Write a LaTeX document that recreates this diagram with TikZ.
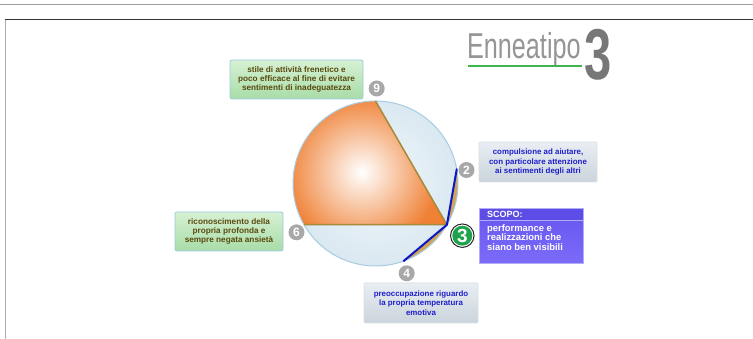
\documentclass[tikz,border=0pt]{standalone}
\usepackage{fontspec}
\setmainfont{Liberation Sans}
\usetikzlibrary{calc}
\definecolor{gtop}{HTML}{D6F1D3}
\definecolor{gbot}{HTML}{A8DCA8}
\definecolor{gborder}{HTML}{9CC8E4}
\definecolor{olivetxt}{HTML}{5A4A0E}
\definecolor{btop}{HTML}{E8EEF3}
\definecolor{bbot}{HTML}{CBD4DC}
\definecolor{bborder}{HTML}{D8DEE4}
\definecolor{bluetxt}{HTML}{1E1ECC}
\definecolor{scopohead}{HTML}{5B4DE6}
\definecolor{scopotop}{HTML}{6A5AF0}
\definecolor{scopobot}{HTML}{7C6CFA}
\definecolor{scopoborder}{HTML}{B4ACF6}
\definecolor{circin}{HTML}{F2F7FA}
\definecolor{circout}{HTML}{DAE8F1}
\definecolor{circborder}{HTML}{A6CCE2}
\definecolor{orangeA}{HTML}{EF8034}
\definecolor{chordc}{HTML}{A48A3A}
\definecolor{tanc}{HTML}{D2A556}
\definecolor{blueline}{HTML}{0B16C4}
\definecolor{badgegray}{HTML}{A8A8A8}
\definecolor{greenbadge}{HTML}{1FA24C}
\definecolor{titlegray}{HTML}{959595}
\definecolor{bigthree}{HTML}{777777}
\definecolor{underl}{HTML}{3DB54A}
\begin{document}
\begin{tikzpicture}[x=1pt,y=-1pt,
  greenbox/.style={rectangle, rounded corners=2pt, draw=gborder, line width=0.8pt,
    top color=gtop, bottom color=gbot, text=olivetxt, align=center,
    font=\bfseries\fontsize{8.2}{9.3}\selectfont, inner sep=0pt},
  graybox/.style={rectangle, rounded corners=1pt, draw=bborder, line width=0.6pt,
    top color=btop, bottom color=bbot, text=bluetxt, align=center,
    font=\bfseries\fontsize{7.9}{9.3}\selectfont, inner sep=0pt},
  badge/.style={circle, fill=badgegray, text=white, inner sep=0pt,
    minimum size=16pt, font=\bfseries\fontsize{12}{12}\selectfont},
  chordline/.style={draw=chordc, line width=1.5pt, line join=round},
  bluepath/.style={draw=blueline, line width=2pt, line join=round, line cap=round}]
\useasboundingbox (0,0) rectangle (753,339);
% frame lines
\draw[gray!75, line width=1.5pt] (0,4.5) -- (753,4.5);
\draw[black!80, line width=1pt] (4.5,20) -- (753,20);
\draw[gray!65, line width=1.6pt] (5.5,20) -- (5.5,339);
% title
\node[anchor=base west, text=titlegray, font=\fontsize{36}{36}\selectfont, xscale=0.7, inner sep=0pt] (title) at (467,59) {Enneatipo};
\draw[underl, line width=2.2pt] (467.5,66) -- (582,66);
\node[anchor=base west, text=bigthree, font=\bfseries\fontsize{72}{72}\selectfont, xscale=0.68, inner sep=0pt] (bigthree) at (584,80) {3};
% circle points
\coordinate (C) at (375.5,183.5);
\coordinate (p9) at (375.5,101);
\coordinate (p3) at (446.95,224.75);
\coordinate (p6) at (304.05,224.75);
\coordinate (p2) at (456.75,169.17);
\coordinate (p4) at (403.7,261.0);
% circle fill
\shade[inner color=circin, outer color=circout] (C) circle[radius=82.5pt];
% orange region
\begin{scope}
  \clip (C) circle[radius=82.5pt];
  \clip (p3) -- ($(p3)!1.1!(p9)$) -- (270,80) -- (270,224.75) -- cycle;
  \fill[orangeA] (270,80) rectangle (460,230);
  \shade[inner color=white, outer color=orangeA] (362,172) circle[radius=78pt];
\end{scope}
% tan segments
\begin{scope}
  \clip (C) circle[radius=82.5pt];
  \fill[tanc] (p3) -- ($(p3)!2!(p2)$) -- (520,90) -- (520,300) -- ($(p3)!2!(p4)$) -- cycle;
\end{scope}
\draw[circborder, line width=1pt] (C) circle[radius=82.5pt];
\draw[chordline] (p9) -- (p3) -- (p6);
\draw[bluepath] (p2) -- (p3) -- (p4);
% badges
\node[badge] (b9) at (376.7,88.5) {9};
\node[badge] (b2) at (466.5,170) {2};
\node[badge] (b6) at (296.5,232.3) {6};
\node[badge] (b4) at (406.7,273.3) {4};
\node[circle, draw=black!85, line width=1pt, fill=white, minimum size=23.5pt, inner sep=0pt] (b3o) at (462.3,235.7) {};
\node[circle, fill=greenbadge, minimum size=20pt, inner sep=0pt, text=white, font=\bfseries\fontsize{19}{19}\selectfont] (b3) at (b3o.center) {3};
% boxes
\node[greenbox, minimum width=133pt, minimum height=39pt] (t9) at (296.5,79.5)
  {stile di attività frenetico e\\poco efficace al fine di evitare\\sentimenti di inadeguatezza};
\node[graybox, minimum width=118pt, minimum height=40pt] (t2) at (538,162)
  {compulsione ad aiutare,\\con particolare attenzione\\ai sentimenti degli altri};
\node[greenbox, minimum width=108pt, minimum height=39pt] (t6) at (229,231.5)
  {riconoscimento della\\propria profonda e\\sempre negata ansietà};
\node[graybox, minimum width=114pt, minimum height=40pt] (t4) at (421,303)
  {preoccupazione riguardo\\la propria temperatura\\emotiva};
% SCOPO box
\node[rectangle, draw=scopoborder, line width=0.6pt, top color=scopotop, bottom color=scopobot,
  minimum width=104pt, minimum height=43pt, inner sep=0pt] (sbody) at (531,242) {};
\node[rectangle, fill=scopohead, draw=scopoborder, line width=0.6pt, minimum width=104pt, minimum height=11.5pt, inner sep=0pt] (shead) at (531,214.5) {};
\node[anchor=west, text=white, font=\bfseries\fontsize{9}{9}\selectfont, inner sep=0pt] (stitle) at (487,214.7) {SCOPO:};
\node[anchor=north west, text=white, align=left, font=\bfseries\fontsize{9.4}{9.4}\selectfont, inner sep=0pt] (stext) at (487,224.5)
  {performance e\\realizzazioni che\\siano ben visibili};
\end{tikzpicture}
\end{document}
